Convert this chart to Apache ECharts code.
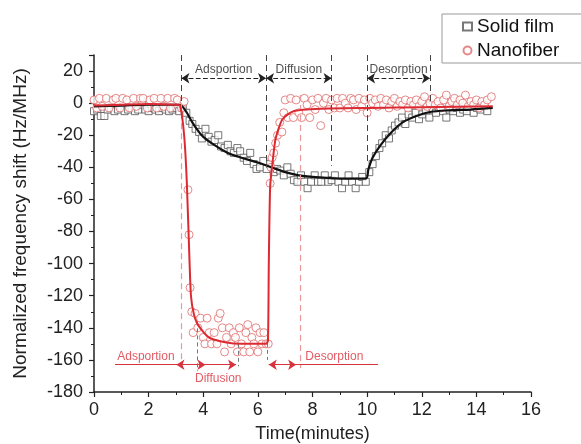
<!DOCTYPE html>
<html>
<head>
<meta charset="utf-8">
<script src="https://cdn.jsdelivr.net/npm/echarts@6/dist/echarts.min.js"></script>
<style>
  html, body { margin: 0; padding: 0; background: #fff; }
  #main { width: 581px; height: 444px; }
</style>
</head>
<body>
<div id="main"></div>
<script>
// data: [time (min), shift (Hz/MHz)]
var solidFilm = [
  [0.0,-5],[0.12,-4],[0.25,-8],[0.38,-8],[0.5,-4],[0.62,-3],[0.75,-5],[0.88,-4],[1.0,-3],[1.12,-5],
  [1.25,-4],[1.38,-3],[1.5,-5],[1.62,-4],[1.75,-1],[1.88,-4],[2.0,-5],[2.12,-3],[2.25,-4],[2.38,-5],
  [2.5,-3],[2.62,-4],[2.75,-5],[2.88,-4],[3.0,-3],[3.12,-5],[3.25,-3],[3.38,-6],[3.5,-11],[3.6,-13],
  [3.72,-16],[3.85,-18],[3.95,-22],[4.08,-16],[4.2,-21],[4.3,-24],[4.42,-23],[4.55,-20],[4.65,-27],[4.78,-28],
  [4.9,-26],[5.0,-30],[5.12,-31],[5.25,-28],[5.35,-30],[5.48,-34],[5.6,-36],[5.72,-31],[5.85,-38],[5.95,-41],
  [6.08,-40],[6.2,-36],[6.32,-41],[6.45,-38],[6.58,-43],[6.7,-41],[6.82,-42],[6.95,-45],[7.08,-40],[7.2,-44],
  [7.32,-48],[7.45,-49],[7.58,-45],[7.7,-49],[7.82,-53],[7.95,-49],[8.08,-45],[8.2,-49],[8.32,-49],[8.45,-45],
  [8.58,-49],[8.7,-48],[8.82,-45],[8.95,-49],[9.08,-53],[9.2,-49],[9.32,-45],[9.45,-49],[9.58,-53],[9.7,-49],
  [9.82,-46],[9.95,-49],[10.08,-43],[10.2,-38],[10.32,-33],[10.45,-28],[10.55,-25],[10.68,-20],[10.8,-22],[10.9,-17],
  [11.02,-14],[11.15,-12],[11.28,-9],[11.4,-13],[11.52,-7],[11.65,-9],[11.78,-6],[11.9,-10],[12.02,-7],[12.15,-5],
  [12.28,-9],[12.4,-4],[12.52,-6],[12.65,-3],[12.78,-5],[12.9,-9],[13.02,-4],[13.15,-5],[13.28,-3],[13.4,-6],
  [13.52,-4],[13.65,-5],[13.78,-2],[13.9,-6],[14.02,-3],[14.15,-4],[14.28,-2],[14.4,-5]
];
var nanofiber = [
  [0.0,2],[0.1,-3],[0.2,3],[0.3,-2],[0.45,3],[0.55,-3],[0.7,2],[0.8,3],[0.95,-3],[1.05,3],
  [1.2,2],[1.3,-3],[1.45,3],[1.55,-2],[1.7,3],[1.8,3],[1.95,-3],[2.05,2],[2.2,3],[2.3,-3],
  [2.45,3],[2.55,-2],[2.7,3],[2.8,-3],[2.95,3],[3.05,2],[3.2,-3],[3.3,1],[3.44,-54],[3.48,-82],
  [3.52,-115],[3.58,-130],[3.63,-143],[3.7,-131],[3.8,-140],[3.9,-134],[4.0,-146],[4.06,-150],[4.14,-134],[4.22,-143],
  [4.3,-150],[4.4,-143],[4.5,-150],[4.55,-134],[4.62,-131],[4.7,-140],[4.78,-155],[4.85,-146],[4.95,-140],[5.02,-150],
  [5.1,-143],[5.18,-146],[5.25,-155],[5.32,-140],[5.4,-150],[5.48,-155],[5.56,-143],[5.63,-138],[5.7,-155],[5.78,-146],
  [5.85,-150],[5.93,-140],[6.0,-155],[6.08,-143],[6.15,-150],[6.22,-143],[6.3,-150],[6.38,-150],[6.45,-50],[6.48,-40],
  [6.52,-34],[6.58,-31],[6.65,-25],[6.72,-20],[6.8,-12],[6.88,-18],[6.95,-6],[7.0,2],[7.1,-9],[7.2,3],
  [7.3,-9],[7.4,2],[7.5,-6],[7.6,-9],[7.7,3],[7.8,-1],[7.9,-9],[8.0,2],[8.1,-4],[8.2,3],
  [8.3,-14],[8.4,0],[8.5,3],[8.6,-4],[8.7,2],[8.8,-3],[8.9,3],[9.0,-3],[9.1,3],[9.2,0],
  [9.3,-3],[9.4,3],[9.5,2],[9.6,-4],[9.7,3],[9.8,-2],[9.9,2],[10.0,-6],[10.1,3],[10.2,0],
  [10.3,2],[10.4,-2],[10.5,3],[10.6,-1],[10.7,2],[10.8,-3],[10.9,1],[11.0,3],[11.1,-2],[11.2,1],
  [11.3,-1],[11.4,2],[11.5,-3],[11.6,1],[11.7,-1],[11.8,2],[11.9,-2],[12.0,1],[12.1,4],[12.2,-2],
  [12.3,0],[12.4,3],[12.5,-1],[12.6,1],[12.7,-3],[12.8,2],[12.9,5],[13.0,-2],[13.1,1],[13.2,3],
  [13.3,-1],[13.4,2],[13.5,0],[13.6,5],[13.7,-2],[13.8,1],[13.9,-1],[14.0,2],[14.1,-3],[14.2,1],
  [14.3,-1],[14.4,2],[14.55,4]
];
var solidFit = [
  [0,-2],[1,-1.5],[2,-1],[3,-1],[3.2,-1.5],[3.4,-6],[3.6,-12],[3.8,-17],[4.0,-21],[4.4,-26],
  [4.9,-31],[5.4,-34],[6.0,-37],[6.5,-40],[7.0,-43],[7.5,-45],[8.0,-46],[9.0,-47],[9.95,-47],[10.05,-41],
  [10.2,-34],[10.5,-26],[10.9,-18],[11.3,-12],[11.8,-8],[12.3,-5.5],[13.0,-4.5],[13.8,-4],[14.6,-3]
];
var nanoFit = [
  [0,-1.5],[1,-1],[2,-0.5],[3,-1],[3.15,-1.5],[3.3,-20],[3.4,-50],[3.5,-100],[3.55,-120],[3.65,-131],
  [3.8,-138],[4.2,-146],[4.8,-149],[5.4,-150],[6.3,-150],[6.37,-148],[6.4,-100],[6.45,-52],[6.55,-35],[6.65,-22],
  [6.9,-10],[7.3,-5],[8.3,-3.5],[10.1,-3],[12,-2.5],[14.6,-2]
];

// annotation segments [[x1,y1],[x2,y2]]
var blackDashed = [
  [[3.2,30],[3.2,0]], [[6.3,30],[6.3,-40]], [[8.7,30],[8.7,-39]],
  [[10.0,30],[10.0,-37]], [[12.3,30],[12.3,-1]]
];
var pinkDashed = [ [[3.2,0],[3.2,-165]], [[7.55,5],[7.55,-165]] ];
var grayDashed = [ [[3.77,-136],[3.77,-167]], [[5.28,-150],[5.28,-164]], [[6.33,-145],[6.33,-160]] ];
var topArrows = [ [[3.2,15.5],[6.3,15.5]], [[6.3,15.5],[8.7,15.5]], [[10.0,15.5],[12.3,15.5]] ];
var redLinesPlain = [ [[0.77,-163],[5.2,-163]], [[6.4,-163],[10.4,-163]] ];
var redArrows = [
  [[3.02,-163],[3.25,-163],'start'], [[3.8,-163],[4.08,-163],'end'],
  [[4.7,-163],[5.2,-163],'end'], [[6.4,-163],[7.4,-163],'both']
];
var labels = [
  ['Adsportion',4.75,21,'#222'], ['Diffusion',7.5,21,'#222'], ['Desorption',11.15,21,'#222'],
  ['Adsportion',1.9,-158,'#d8323c'], ['Diffusion',4.55,-172,'#d8323c'], ['Desorption',8.8,-158,'#d8323c']
];

function segs(list, color, type, width) {
  return list.map(function (s) {
    return [{ coord: s[0], lineStyle: { color: color, type: type, width: width } }, { coord: s[1] }];
  });
}
var markData = []
  .concat(segs(blackDashed, '#444', [6, 4], 1))
  .concat(segs(pinkDashed, '#e89a9a', [6, 4], 1.2))
  .concat(segs(grayDashed, '#777', [4, 3], 1))
  .concat(segs(redLinesPlain, '#d8323c', 'solid', 1.2));
var arrowData = topArrows.map(function (s) {
  return [{ coord: s[0], symbol: 'arrow', lineStyle: { color: '#222', width: 1.2 }, itemStyle: { color: '#222' } },
          { coord: s[1], symbol: 'arrow' }];
}).concat(redArrows.map(function (s) {
  return [{ coord: s[0], symbol: (s[2] === 'end' ? 'none' : 'arrow'), lineStyle: { color: '#d8323c', width: 1.2 }, itemStyle: { color: '#d8323c' } },
          { coord: s[1], symbol: (s[2] === 'start' ? 'none' : 'arrow') }];
}));

var myChart = echarts.init(document.getElementById('main'));
var option = {
  animation: false,
  backgroundColor: '#fff',
  textStyle: { fontFamily: 'Liberation Sans, Arial, sans-serif' },
  grid: { left: 94, right: 50, top: 55, bottom: 52, containLabel: false, outerBoundsMode: 'none' },
  legend: {
    data: [
      { name: 'Solid film' },
      { name: 'Nanofiber' }
    ],
    orient: 'vertical',
    left: 442, top: 14,
    borderColor: '#999', borderWidth: 1,
    padding: [3, 30, 3, 20],
    itemGap: 5, itemWidth: 9, itemHeight: 8,
    textStyle: { fontSize: 19, color: '#111' }
  },
  xAxis: {
    type: 'value', min: 0, max: 16, interval: 2,
    name: 'Time(minutes)', nameLocation: 'middle', nameGap: 33,
    nameTextStyle: { fontSize: 18, color: '#222' },
    axisLine: { onZero: false, lineStyle: { color: '#222', width: 1.5 } },
    axisTick: { length: 5, lineStyle: { color: '#222', width: 1.2 } },
    minorTick: { show: true, splitNumber: 2, length: 3, lineStyle: { color: '#222' } },
    axisLabel: { fontSize: 18, color: '#222', margin: 9 },
    splitLine: { show: false }
  },
  yAxis: {
    type: 'value', min: -180, max: 30, interval: 20,
    name: 'Normalized frequency shift (Hz/MHz)', nameLocation: 'middle', nameGap: 64,
    nameTextStyle: { fontSize: 19, color: '#222' },
    axisLine: { onZero: false, lineStyle: { color: '#222', width: 1.5 } },
    axisTick: { length: 5, lineStyle: { color: '#222', width: 1.2 } },
    minorTick: { show: true, splitNumber: 2, length: 3, lineStyle: { color: '#222' } },
    axisLabel: {
      fontSize: 18, color: '#222', margin: 11,
      formatter: function (v) { return v === 30 ? '' : v; }
    },
    splitLine: { show: false }
  },
  series: [
    {
      name: 'Solid film', type: 'scatter', data: solidFilm,
      symbol: 'rect', symbolSize: 7,
      itemStyle: { color: '#fff', borderColor: '#555', borderWidth: 1 }, z: 2
    },
    {
      name: 'Nanofiber', type: 'scatter', data: nanofiber,
      symbol: 'circle', symbolSize: 8,
      itemStyle: { color: '#fff', borderColor: '#e06a6a', borderWidth: 1 }, z: 3
    },
    {
      name: 'Solid film fit', type: 'line', data: solidFit, smooth: 0.3,
      showSymbol: false, lineStyle: { color: '#111', width: 2.2 }, z: 4
    },
    {
      name: 'Nanofiber fit', type: 'line', data: nanoFit, smooth: 0.2,
      showSymbol: false, lineStyle: { color: '#dc2a32', width: 2 }, z: 5
    },
    {
      name: 'marks', type: 'line', data: [], silent: true,
      markLine: { silent: true, symbol: 'none', label: { show: false }, data: markData, animation: false }
    },
    {
      name: 'arrows', type: 'line', data: [], silent: true,
      markLine: { silent: true, symbolSize: 8, label: { show: false }, data: arrowData, animation: false }
    },
    {
      name: 'labels', type: 'scatter', silent: true, symbolSize: 0,
      data: labels.map(function (l) {
        return { name: l[0], value: [l[1], l[2]], label: { color: l[3] } };
      }),
      label: { show: true, position: 'inside', formatter: '{b}', fontSize: 12 }, z: 6
    }
  ]
};
myChart.setOption(option);
</script>
</body>
</html>
